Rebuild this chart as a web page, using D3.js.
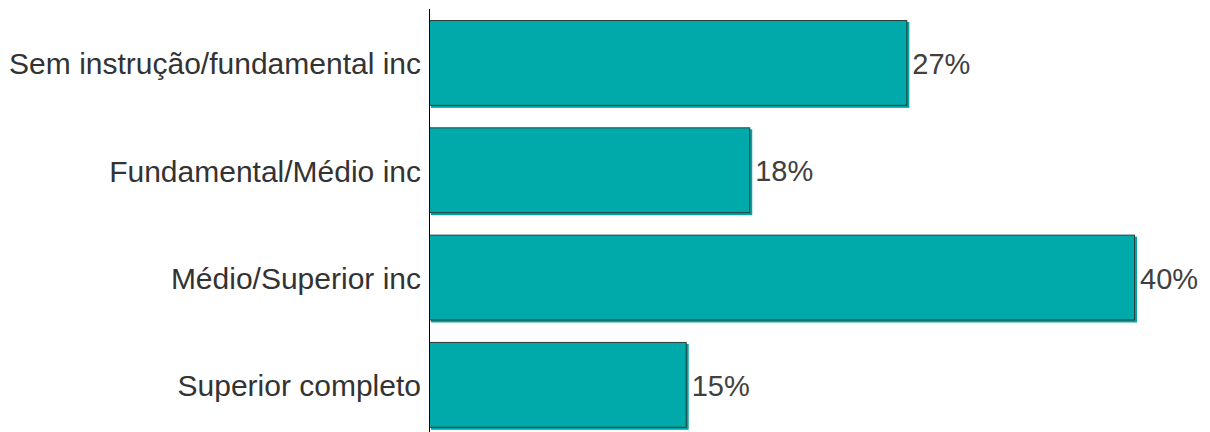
<!DOCTYPE html>
<html><head><meta charset="utf-8">
<script src="https://cdn.jsdelivr.net/npm/d3@7"></script>
<style>body{margin:0;background:#fff}svg{display:block}text{font-family:"Liberation Sans",Arial,sans-serif}</style>
</head><body><svg id="c" width="1210" height="432"></svg>
<script>
const categories = ["Sem instrução/fundamental inc","Fundamental/Médio inc","Médio/Superior inc","Superior completo"];
const values = [27.1, 18.2, 40, 14.6];
const valueLabels = ["27%","18%","40%","15%"];

const svg = d3.select("#c");
const x0 = 429;
const x = d3.scaleLinear().domain([0,40]).range([x0, 1135]);
const y = d3.scaleBand().domain(categories).range([9.3, 438.5]).paddingInner(0.2).paddingOuter(0.1);

const g = svg.append("g");
g.selectAll("rect.sh").data(values).join("rect").attr("class","sh")
  .attr("x", x0+2).attr("y",(d,i)=>y(categories[i])+2)
  .attr("width", d=>x(d)-x0).attr("height", y.bandwidth())
  .attr("fill","#00A5A5");
g.selectAll("rect.b").data(values).join("rect").attr("class","b")
  .attr("x", x0+0.5).attr("y",(d,i)=>y(categories[i])+0.5)
  .attr("width", d=>x(d)-x0-1).attr("height", y.bandwidth()-1)
  .attr("fill","#00AAAA").attr("stroke","#2e3b3b").attr("stroke-width",1);

svg.append("line").attr("x1",x0+0.5).attr("x2",x0+0.5).attr("y1",9).attr("y2",432).attr("stroke","#000").attr("stroke-width",1);

svg.selectAll("text.cat").data(categories).join("text").attr("class","cat")
  .attr("x", x0-8).attr("y", d=>y(d)+y.bandwidth()/2+1).attr("dy","0.35em")
  .attr("text-anchor","end").attr("font-size",30).attr("fill","#333")
  .text(d=>d);
svg.selectAll("text.val").data(values).join("text").attr("class","val")
  .attr("x", d=>x(d)+5).attr("y",(d,i)=>y(categories[i])+y.bandwidth()/2+1).attr("dy","0.35em")
  .attr("font-size",29).attr("fill","#404040")
  .text((d,i)=>valueLabels[i]);
</script></body></html>
